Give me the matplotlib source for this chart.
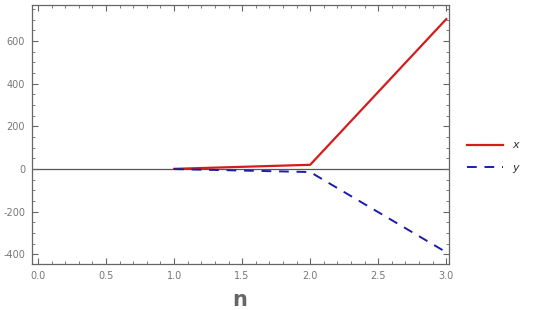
import numpy as np
import matplotlib.pyplot as plt
from matplotlib.ticker import MultipleLocator

plt.rcParams['axes.unicode_minus'] = False

# donnees
n = np.array([1, 2, 3])
x = np.array([1, 20, 703])
y = np.array([0, -14, -390])

fig = plt.figure(figsize=(5.33, 3.10), dpi=100)
ax = fig.add_axes([32/533, 1-264/310, 417/533, 259/310])

ax.axhline(0, color='#555555', lw=0.9, zorder=1)
ax.plot(n, x, color='#d41c1c', lw=1.6, label='x')
ax.plot(n, y, color='#1c1ca8', lw=1.4, ls=(0, (5, 4)), label='y')

ax.set_xlim(-0.044, 3.02)
ax.set_ylim(-445, 769)
ax.xaxis.set_major_locator(MultipleLocator(0.5))
ax.xaxis.set_minor_locator(MultipleLocator(0.1))
ax.yaxis.set_major_locator(MultipleLocator(200))
ax.yaxis.set_minor_locator(MultipleLocator(50))
ax.tick_params(which='both', direction='in', top=True, right=True, color='#666666', labelcolor='#777777', labelsize=7)
ax.tick_params(which='major', length=4, pad=5)
ax.tick_params(which='minor', length=2)
ax.xaxis.set_major_formatter(plt.FuncFormatter(lambda v, p: f"{v:.1f}"))
for s in ax.spines.values():
    s.set_color('#666666')
    s.set_linewidth(0.9)

fig.text(240/533, 1-300/310, 'n', ha='center', va='center', fontsize=15, fontweight='bold', color='#666666')

leg = ax.legend(loc='center left', bbox_to_anchor=(1.02, 0.415), frameon=False, handlelength=3.2, fontsize=8, labelspacing=1.1)
for t in leg.get_texts():
    t.set_fontstyle('italic')
    t.set_color('#333333')

fig.savefig('out.png', dpi=100)
